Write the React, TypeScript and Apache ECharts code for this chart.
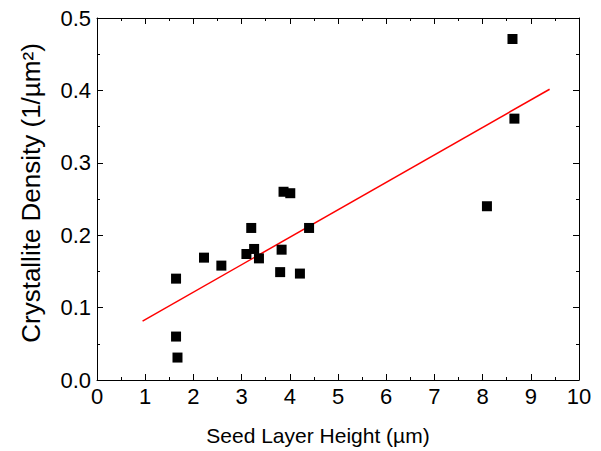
import React, { useEffect, useRef } from "react";
import * as echarts from "echarts";

const seedHeight = [8.62, 8.66, 8.09, 3.87, 4.01, 3.2, 4.4, 2.22, 2.58, 3.1, 3.26, 3.36, 3.83, 3.8, 4.21, 1.64, 1.64, 1.67];
const density = [0.471, 0.361, 0.24, 0.26, 0.258, 0.21, 0.21, 0.169, 0.158, 0.174, 0.181, 0.168, 0.18, 0.149, 0.147, 0.14, 0.06, 0.031];
const fitX = [0.945, 9.39];
const fitY = [0.0813, 0.4016];
const xTitle = "Seed Layer Height (µm)";
const yTitle = "Crystallite Density (1/µm²)";

const FONT = "'Liberation Sans', Arial, sans-serif";

export default function App() {
  const ref = useRef<HTMLDivElement>(null);
  useEffect(() => {
    if (!ref.current) return;
    const chart = echarts.init(ref.current, undefined, { renderer: "svg" });
    const tickCommon = {
      axisLine: { show: true, onZero: false, lineStyle: { color: "#000", width: 1 } },
      axisTick: { show: true, inside: true, length: 6, lineStyle: { color: "#000" } },
      minorTick: { show: true, splitNumber: 2, length: 3, lineStyle: { color: "#000" } },
      splitLine: { show: false },
    };
    chart.setOption({
      animation: false,
      backgroundColor: "#fff",
      grid: { left: 97, right: 22, top: 18, bottom: 70 },
      graphic: [
        {
          type: "text",
          x: 31,
          y: 193,
          rotation: Math.PI / 2,
          style: {
            text: yTitle,
            fontFamily: FONT,
            fontSize: 26,
            fill: "#000",
            align: "center",
            verticalAlign: "middle",
          },
        },
      ],
      xAxis: [
        {
          type: "value",
          min: 0,
          max: 10,
          interval: 1,
          position: "bottom",
          ...tickCommon,
          axisLabel: { color: "#000", fontFamily: FONT, fontSize: 22, margin: 5 },
          name: xTitle,
          nameLocation: "middle",
          nameGap: 45,
          nameTextStyle: { color: "#000", fontFamily: FONT, fontSize: 21, padding: [0, 40, 0, 0] },
        },
        {
          type: "value",
          min: 0,
          max: 10,
          interval: 1,
          position: "top",
          ...tickCommon,
          axisLabel: { show: false },
        },
      ],
      yAxis: [
        {
          type: "value",
          min: 0,
          max: 0.5,
          interval: 0.1,
          position: "left",
          ...tickCommon,
          axisLabel: {
            color: "#000",
            fontFamily: FONT,
            fontSize: 22,
            margin: 6,
            formatter: (v: number) => v.toFixed(1),
          },
        },
        {
          type: "value",
          min: 0,
          max: 0.5,
          interval: 0.1,
          position: "right",
          ...tickCommon,
          axisLabel: { show: false },
        },
      ],
      series: [
        {
          type: "line",
          data: fitX.map((x, i) => [x, fitY[i]]),
          showSymbol: false,
          symbol: "none",
          lineStyle: { color: "#ff0000", width: 1.5 },
          z: 2,
        },
        {
          type: "scatter",
          data: seedHeight.map((x, i) => [x, density[i]]),
          symbol: "rect",
          symbolSize: 10,
          itemStyle: { color: "#000", opacity: 1 },
          z: 3,
        },
      ],
    });
    return () => chart.dispose();
  }, []);
  return <div ref={ref} style={{ width: 601, height: 451, position: "absolute", left: 0, top: 0 }} />;
}
